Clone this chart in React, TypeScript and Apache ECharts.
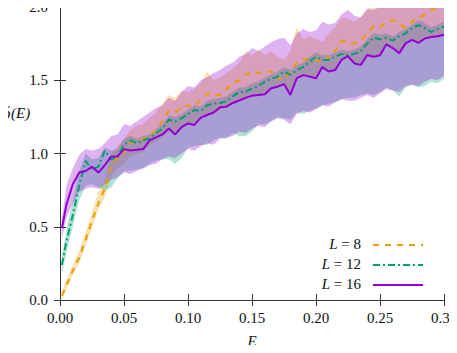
import React, { useEffect, useRef } from "react";
import * as echarts from "echarts";

const E = [0.0015, 0.005, 0.01, 0.015, 0.02, 0.025, 0.03, 0.035, 0.04, 0.045, 0.05, 0.055, 0.06, 0.065, 0.07, 0.075, 0.08, 0.085, 0.09, 0.095, 0.1, 0.105, 0.11, 0.115, 0.12, 0.125, 0.13, 0.135, 0.14, 0.145, 0.15, 0.155, 0.16, 0.165, 0.17, 0.175, 0.18, 0.185, 0.19, 0.195, 0.2, 0.205, 0.21, 0.215, 0.22, 0.225, 0.23, 0.235, 0.24, 0.245, 0.25, 0.255, 0.26, 0.265, 0.27, 0.275, 0.28, 0.285, 0.29, 0.295, 0.3];

// L = 8
const L8 = [0.03, 0.10, 0.20, 0.29, 0.41, 0.54, 0.66, 0.76, 0.92, 0.97, 1.01, 1.07, 1.09, 1.10, 1.12, 1.16, 1.22, 1.29, 1.28, 1.31, 1.33, 1.32, 1.37, 1.41, 1.40, 1.40, 1.44, 1.48, 1.50, 1.536, 1.56, 1.55, 1.56, 1.56, 1.52, 1.50, 1.56, 1.62, 1.64, 1.65, 1.64, 1.62, 1.66, 1.70, 1.77, 1.76, 1.75, 1.77, 1.82, 1.866, 1.86, 1.90, 1.91, 1.88, 1.86, 1.90, 1.92, 1.95, 1.98, 2.00, 2.02];
const L8_lo = [0.00, 0.07, 0.17, 0.25, 0.37, 0.49, 0.62, 0.70, 0.84, 0.90, 0.93, 0.98, 1.00, 1.01, 1.06, 1.08, 1.11, 1.15, 1.13, 1.17, 1.20, 1.19, 1.24, 1.26, 1.27, 1.30, 1.31, 1.34, 1.36, 1.37, 1.39, 1.40, 1.40, 1.44, 1.45, 1.46, 1.42, 1.51, 1.53, 1.52, 1.51, 1.58, 1.56, 1.57, 1.63, 1.66, 1.62, 1.61, 1.67, 1.66, 1.67, 1.74, 1.72, 1.69, 1.75, 1.77, 1.76, 1.78, 1.79, 1.80, 1.81];
const L8_hi = [0.06, 0.14, 0.24, 0.34, 0.46, 0.60, 0.74, 0.82, 1.00, 1.05, 1.10, 1.16, 1.19, 1.20, 1.24, 1.28, 1.34, 1.40, 1.38, 1.43, 1.42, 1.44, 1.48, 1.56, 1.50, 1.52, 1.55, 1.58, 1.62, 1.70, 1.67, 1.71, 1.67, 1.70, 1.66, 1.64, 1.70, 1.86, 1.78, 1.80, 1.78, 1.76, 1.82, 1.86, 1.93, 1.92, 1.90, 1.93, 1.98, 2.02, 2.02, 2.06, 2.08, 2.04, 2.02, 2.06, 2.08, 2.10, 2.12, 2.14, 2.16];

// L = 12
const L12 = [0.24, 0.40, 0.58, 0.78, 0.95, 0.89, 0.91, 1.02, 0.96, 0.98, 1.06, 1.09, 1.07, 1.09, 1.105, 1.14, 1.17, 1.23, 1.22, 1.24, 1.27, 1.297, 1.29, 1.33, 1.34, 1.345, 1.355, 1.39, 1.42, 1.42, 1.445, 1.46, 1.49, 1.51, 1.525, 1.56, 1.536, 1.57, 1.59, 1.627, 1.66, 1.638, 1.638, 1.66, 1.68, 1.672, 1.68, 1.70, 1.75, 1.79, 1.78, 1.79, 1.77, 1.80, 1.82, 1.855, 1.877, 1.855, 1.83, 1.85, 1.866];
const L12_lo = [0.18, 0.32, 0.50, 0.68, 0.78, 0.79, 0.77, 0.75, 0.77, 0.83, 0.88, 0.88, 0.89, 0.90, 0.93, 0.95, 0.96, 0.96, 0.93, 0.97, 1.04, 1.05, 1.06, 1.06, 1.09, 1.11, 1.10, 1.14, 1.12, 1.12, 1.15, 1.20, 1.20, 1.22, 1.25, 1.24, 1.23, 1.28, 1.27, 1.29, 1.31, 1.33, 1.34, 1.35, 1.37, 1.38, 1.38, 1.40, 1.41, 1.40, 1.42, 1.45, 1.43, 1.39, 1.45, 1.47, 1.45, 1.46, 1.49, 1.48, 1.51];
const L12_hi = [0.30, 0.48, 0.68, 0.88, 1.00, 0.96, 0.97, 1.04, 1.02, 1.03, 1.10, 1.12, 1.10, 1.12, 1.13, 1.17, 1.20, 1.26, 1.25, 1.27, 1.30, 1.33, 1.32, 1.36, 1.37, 1.38, 1.39, 1.42, 1.45, 1.45, 1.48, 1.49, 1.52, 1.54, 1.56, 1.59, 1.57, 1.60, 1.62, 1.66, 1.69, 1.67, 1.67, 1.69, 1.71, 1.70, 1.71, 1.73, 1.78, 1.82, 1.81, 1.82, 1.80, 1.83, 1.85, 1.88, 1.91, 1.89, 1.86, 1.88, 1.90];

// L = 16
const L16 = [0.49, 0.65, 0.79, 0.87, 0.88, 0.91, 0.87, 0.92, 0.98, 0.98, 1.03, 1.02, 1.025, 1.03, 1.09, 1.11, 1.13, 1.17, 1.13, 1.18, 1.205, 1.195, 1.245, 1.263, 1.28, 1.315, 1.32, 1.345, 1.362, 1.38, 1.395, 1.40, 1.405, 1.445, 1.456, 1.474, 1.40, 1.515, 1.535, 1.525, 1.513, 1.59, 1.56, 1.57, 1.64, 1.665, 1.615, 1.605, 1.672, 1.66, 1.67, 1.745, 1.72, 1.685, 1.752, 1.775, 1.755, 1.785, 1.795, 1.80, 1.81];
const L16_lo = [0.42, 0.56, 0.66, 0.74, 0.76, 0.77, 0.76, 0.79, 0.82, 0.84, 0.87, 0.86, 0.88, 0.90, 0.92, 0.93, 0.96, 0.98, 0.97, 1.00, 1.03, 1.02, 1.05, 1.07, 1.06, 1.10, 1.11, 1.12, 1.15, 1.14, 1.17, 1.19, 1.18, 1.22, 1.24, 1.23, 1.20, 1.27, 1.29, 1.28, 1.30, 1.33, 1.32, 1.35, 1.37, 1.36, 1.36, 1.38, 1.40, 1.38, 1.41, 1.44, 1.43, 1.42, 1.46, 1.47, 1.46, 1.49, 1.51, 1.50, 1.53];
const L16_hi = [0.56, 0.78, 0.90, 0.99, 1.03, 1.02, 1.03, 1.07, 1.12, 1.13, 1.20, 1.19, 1.22, 1.25, 1.28, 1.31, 1.33, 1.38, 1.36, 1.42, 1.46, 1.45, 1.50, 1.52, 1.55, 1.57, 1.60, 1.62, 1.66, 1.68, 1.72, 1.70, 1.73, 1.76, 1.78, 1.79, 1.74, 1.82, 1.85, 1.83, 1.84, 1.90, 1.88, 1.89, 1.95, 1.98, 1.94, 1.93, 1.99, 1.98, 2.00, 2.05, 2.03, 2.00, 2.06, 2.09, 2.07, 2.10, 2.11, 2.12, 2.13];

const ORANGE = "#E69F00";
const GREEN = "#009E73";
const PURPLE = "#9400D3";

const FONT = '"Liberation Serif", serif';

const pairs = (arr: number[]) => E.map((e, i) => [e, arr[i]]);

function band(id: string, lo: number[], hi: number[], color: string) {
  return {
    name: id,
    type: "custom",
    clip: true,
    silent: true,
    z: 1,
    data: E.map((e, i) => [e, lo[i], hi[i]]),
    encode: { x: 0, y: [1, 2] },
    renderItem: (params: any, api: any) => {
      if (params.dataIndex !== 0) return null;
      const upper = E.map((e, i) => api.coord([e, hi[i]]));
      const lower = E.map((e, i) => api.coord([e, lo[i]])).reverse();
      return {
        type: "polygon",
        shape: { points: upper.concat(lower) },
        style: { fill: color, stroke: "none" },
      };
    },
  };
}

function meanLine(name: string, arr: number[], color: string, type: any) {
  return {
    name,
    type: "line",
    data: pairs(arr),
    symbol: "none",
    lineStyle: { color, width: 2, type },
    z: 3,
  };
}

export default function App() {
  const ref = useRef<HTMLDivElement>(null);
  useEffect(() => {
    if (!ref.current) return;
    const chart = echarts.init(ref.current, undefined, { renderer: "svg" });
    const axisCommon = {
      type: "value",
      axisLine: { show: true, lineStyle: { color: "#333", width: 1 } },
      axisTick: { show: true, inside: true, length: 6, lineStyle: { color: "#333" } },
      splitLine: { show: false },
    };
    const option: any = {
      animation: false,
      backgroundColor: "#fff",
      grid: { left: 60, right: 13, top: 7, bottom: 53, containLabel: false, outerBoundsMode: "none" },
      xAxis: [
        {
          ...axisCommon,
          position: "bottom",
          min: 0,
          max: 0.3,
          interval: 0.05,
          axisLabel: {
            margin: 10,
            fontFamily: FONT,
            fontSize: 15,
            color: "#111",
            formatter: (v: number) => v.toFixed(2),
          },
        },
        {
          ...axisCommon,
          position: "top",
          min: 0,
          max: 0.3,
          interval: 0.05,
          axisLabel: { show: false },
        },
      ],
      yAxis: [
        {
          ...axisCommon,
          position: "left",
          min: 0,
          max: 2,
          interval: 0.5,
          axisLabel: {
            margin: 12,
            fontFamily: FONT,
            fontSize: 15,
            color: "#111",
            formatter: (v: number) => v.toFixed(1),
          },
        },
        {
          ...axisCommon,
          position: "right",
          min: 0,
          max: 2,
          interval: 0.5,
          axisLabel: { show: false },
        },
      ],
      series: [
        band("b8", L8_lo, L8_hi, "rgba(230,159,0,0.3)"),
        meanLine("L = 8", L8, ORANGE, [6, 6]),
        band("b12", L12_lo, L12_hi, "rgba(0,158,115,0.3)"),
        meanLine("L = 12", L12, GREEN, [7, 3, 2, 3]),
        band("b16", L16_lo, L16_hi, "rgba(148,0,211,0.3)"),
        meanLine("L = 16", L16, PURPLE, "solid"),
      ],
      graphic: [
        {
          type: "text",
          x: 2,
          y: 114,
          style: {
            text: "ρ",
            font: 'italic 14px "DejaVu Serif", serif',
            fill: "#111",
            align: "left",
            verticalAlign: "middle",
          },
        },
        {
          type: "text",
          x: 11,
          y: 113,
          style: {
            text: "(E)",
            font: 'italic 15px "Liberation Serif", serif',
            fill: "#111",
            align: "left",
            verticalAlign: "middle",
          },
        },
        {
          type: "line",
          shape: { x1: 4, y1: 107, x2: 10, y2: 107 },
          style: { stroke: "#111", lineWidth: 0.9 },
        },
        {
          type: "text",
          x: 252,
          y: 341,
          style: {
            text: "E",
            font: 'italic 15px "Liberation Serif", serif',
            fill: "#111",
            align: "center",
            verticalAlign: "middle",
          },
        },
        ...[
          { n: "8", y: 245, color: ORANGE, dash: [6, 6] },
          { n: "12", y: 265, color: GREEN, dash: [7, 3, 2, 3] },
          { n: "16", y: 285, color: PURPLE, dash: null },
        ].flatMap((it) => [
          {
            type: "text",
            x: 361,
            y: it.y - 1,
            style: {
              text: "{i|L} = " + it.n,
              align: "right",
              verticalAlign: "middle",
              fontFamily: FONT,
              fontSize: 15,
              fill: "#111",
              rich: {
                i: { fontFamily: FONT, fontStyle: "italic", fontSize: 15, fill: "#111" },
              },
            },
          },
          {
            type: "line",
            shape: { x1: 373, y1: it.y, x2: 423, y2: it.y },
            style: { stroke: it.color, lineWidth: 2, lineDash: it.dash || undefined },
          },
        ]),
      ],
    };
    chart.setOption(option);
    return () => chart.dispose();
  }, []);
  return <div ref={ref} style={{ width: 457, height: 353, margin: -8 }} />;
}
